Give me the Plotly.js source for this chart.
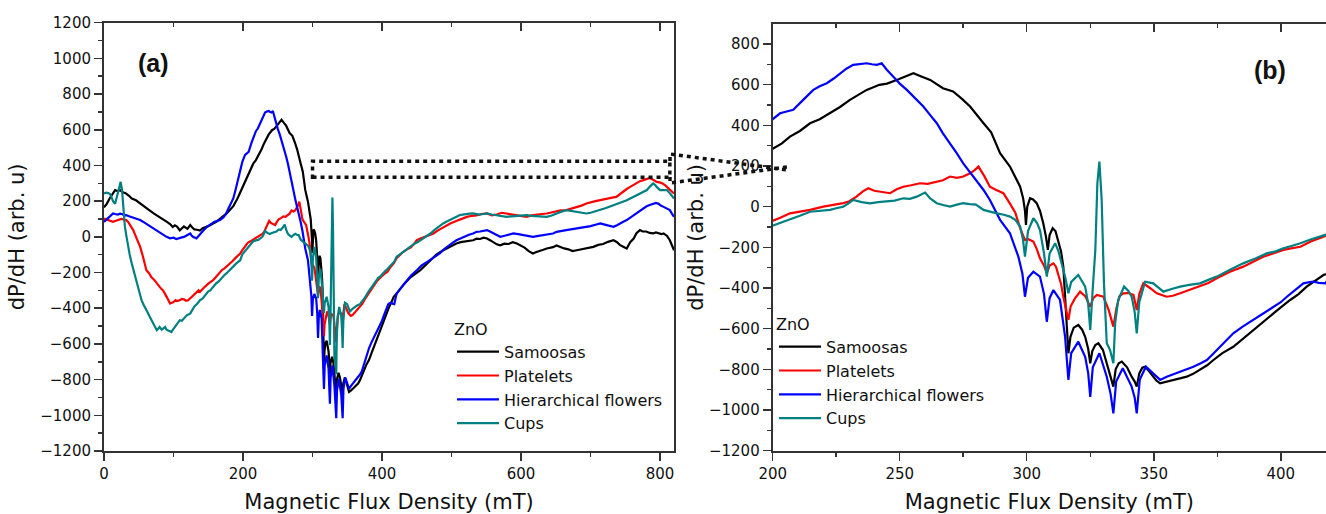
<!DOCTYPE html>
<html>
<head>
<meta charset="utf-8">
<script src="https://cdn.plot.ly/plotly-3.0.1.min.js"></script>
<style>html,body{margin:0;padding:0;background:#fff;}#chart{width:1326px;height:514px;}</style>
</head>
<body>
<div id="chart"></div>
<script>
// ---- data: [magnetic flux density mT, dP/dH] ----
const seriesNames = ["Samoosas", "Platelets", "Hierarchical flowers", "Cups"];
const seriesColors = ["#000000", "#ff0000", "#0000ff", "#008080"];

const samoosas = [[0,165],[4,185],[8,215],[12,240],[16,262],[20,255],[23,262],[27,250],[31,245],[36,230],[40,215],[46,205],[52,189],[58,170],[65,150],[72,130],[80,112],[85,100],[90,85],[95,72],[99,55],[102,65],[105,58],[109,37],[112,50],[115,58],[120,45],[124,66],[127,52],[130,42],[134,40],[138,35],[142,48],[145,52],[150,60],[157,75],[162,85],[165,96],[170,110],[176,130],[181,150],[186,172],[192,215],[196,250],[200,285],[203.5,310],[206.8,344],[210.7,372],[214.7,410],[218.5,430],[222.6,459],[226.5,490],[230.4,525],[234,550],[237,574],[242,599],[245,605],[248.8,623],[252,640],[255.4,656],[258.5,640],[262,623],[267,582],[271,566],[274.5,530],[277.7,492],[283,410],[286,365],[289.5,263],[293.4,197],[297.4,98],[298.6,40],[299.3,-20],[299.7,-90],[300.2,0],[301.3,41],[302.5,35],[303.9,17],[305.2,-20],[306.5,-82],[307.6,-150],[308.3,-213],[309,-140],[310.2,-106],[311.3,-120],[312.4,-164],[313.5,-220],[314.4,-295],[315.2,-450],[315.7,-574],[316.4,-721],[317.2,-640],[318.5,-595],[320.3,-582],[321.8,-605],[323,-640],[324.2,-700],[325,-770],[325.8,-710],[327,-680],[328.2,-672],[330,-705],[331.5,-770],[333,-830],[334.1,-885],[335,-800],[336.2,-770],[337.4,-762],[339.5,-790],[341.3,-836],[342.5,-860],[343.3,-885],[344.3,-820],[345.5,-792],[346.6,-787],[348.2,-810],[349.8,-836],[351,-855],[352.5,-869],[355,-862],[357.7,-852],[360,-848],[363,-836],[365.5,-822],[368.2,-803],[371,-780],[373.5,-754],[377,-720],[381.3,-689],[385,-650],[389.2,-606],[393,-565],[397.1,-524],[400,-495],[403.7,-459],[407,-430],[410.2,-393],[413,-370],[416.8,-336],[421,-318],[426,-290],[432,-262],[440,-230],[447,-210],[455,-187],[462,-160],[470,-130],[478,-100],[488,-75],[493,-65],[498,-55],[503,-45],[507,-37],[513,-30],[519,-25],[525,-20],[531,-19],[536,-10],[541,-12],[546,-5],[551,-9],[556,-20],[560,-30],[565,-42],[570,-47],[576,-38],[582,-40],[588,-30],[594,-37],[600,-50],[605,-60],[611,-80],[617,-93],[622,-85],[627,-80],[632,-72],[637,-65],[642,-60],[646,-58],[651,-48],[656,-56],[662,-65],[668,-70],[674,-80],[680,-75],[686,-70],[692,-62],[698,-60],[704,-56],[711,-45],[718,-40],[725,-28],[733,-19],[738,-30],[742,-45],[747,-55],[752,-65],[757,-30],[762,-10],[766,20],[771,38],[775,30],[780,30],[785,22],[790,19],[794,25],[798,22],[802,15],[805,19],[810,5],[814,-19],[817,-45],[820,-75]];

const platelets = [[0,103],[4,98],[8,92],[13,84],[17,90],[20,95],[25,100],[29,96],[32,94],[35,82],[37,70],[40,50],[42,38],[45,10],[47,-10],[50,-35],[52,-56],[56,-110],[58,-145],[61,-187],[65,-205],[68,-225],[72,-240],[76,-261],[79,-275],[82,-290],[85,-300],[88,-317],[90,-335],[92,-350],[95,-374],[97,-370],[100,-365],[103,-355],[105,-360],[109,-355],[112,-348],[115,-350],[118,-358],[121,-355],[125,-340],[128,-330],[133,-315],[136,-300],[138,-308],[142,-290],[145,-280],[150,-262],[153,-255],[157,-243],[161,-225],[165,-205],[170,-185],[173,-178],[176,-168],[180,-155],[185,-135],[190,-115],[193,-105],[196,-93],[199,-74],[203,-55],[206.8,-33],[210.7,-25],[214.7,-16],[219.9,0],[224,8],[227.8,17],[230,25],[233,49],[235.5,75],[237.6,90],[240,78],[242.2,74],[244,72],[246.2,66],[248.8,85],[251.4,98],[254.5,105],[258,115],[261,112],[264.6,123],[267,130],[269.8,148],[272.5,142],[275,148],[277.7,164],[279.5,180],[281,197],[283.3,150],[285.5,98],[288,82],[290.8,66],[293.4,15],[295.5,-30],[297.4,-106],[298.5,-140],[299.3,-164],[300.6,-160],[302.6,-172],[304,-210],[305.2,-254],[306.8,-290],[307.9,-328],[309,-290],[310.5,-279],[311.5,-295],[312.4,-328],[313.5,-380],[314.4,-443],[315.6,-510],[316.4,-557],[317.3,-490],[319,-451],[321,-418],[323,-440],[325,-492],[326.2,-450],[327.6,-434],[330.2,-443],[332.3,-510],[334.1,-590],[335.3,-500],[336.5,-440],[338,-426],[340,-425],[342,-434],[343.3,-508],[344.3,-430],[345.9,-377],[348.5,-400],[351.2,-426],[355.1,-443],[357.5,-438],[360.4,-426],[364,-410],[368.2,-393],[371.5,-375],[374.8,-352],[380,-320],[385.2,-295],[389,-270],[393.1,-246],[397,-230],[401,-213],[404,-205],[407.7,-197],[412,-170],[416.8,-148],[421,-120],[425,-105],[430,-85],[436,-70],[441,-60],[445,-45],[450,-19],[456,-8],[462,0],[468,12],[474,19],[480,35],[486,50],[492,62],[498,75],[504,85],[510,95],[516,105],[522,112],[529,118],[536,120],[543,128],[551,131],[558,120],[565,125],[572,135],[579,131],[586,125],[594,120],[601,115],[608,112],[615,120],[622,125],[630,128],[637,131],[644,138],[650,140],[657,148],[665,150],[672,158],[680,165],[687,175],[694,187],[700,195],[707,200],[714,206],[720,212],[725,215],[731,220],[737,224],[742,240],[747,255],[752,268],[757,280],[761,290],[766,300],[771,312],[776,318],[780,325],[785,330],[790,320],[795,308],[799,305],[803,300],[807,290],[810,280],[815,265],[820,243]];

const flowers = [[0,84],[4,100],[8,115],[13,131],[16,128],[20,125],[23,130],[26,128],[29,120],[32,122],[36,115],[40,110],[44,105],[47,100],[52,94],[56,85],[60,75],[66,60],[71,47],[75,38],[80,25],[85,12],[90,0],[95,-8],[100,-5],[104,-12],[109,-9],[112,-3],[115,0],[118,5],[120,10],[124,19],[126,8],[128,0],[131,-5],[133,-9],[136,5],[140,20],[144,40],[148,56],[152,68],[155,75],[159,85],[162,88],[167,94],[172,110],[175,125],[178,150],[182,180],[186,215],[189,260],[192,310],[196,380],[199,420],[202.9,459],[205.5,468],[208.1,476],[212,525],[216,574],[218.5,592],[221.3,607],[224,630],[226.5,656],[229,678],[231.7,697],[234,702],[237,705],[239,700],[241,697],[242.9,705],[245,672],[247.5,639],[250,605],[252.8,574],[256,535],[259.3,492],[262,450],[264.6,410],[267,360],[269.8,312],[272.5,262],[275,213],[277.5,172],[280.3,131],[283,82],[285.5,33],[289.5,-65],[293.4,-131],[296.7,-246],[298.3,-330],[299.3,-443],[300.5,-350],[302.6,-320],[305.2,-344],[306.8,-430],[307.9,-566],[309,-450],[310.5,-410],[313.1,-459],[315.1,-640],[316.4,-852],[317.5,-720],[320.3,-664],[323,-738],[324.2,-820],[325,-935],[326,-790],[328.6,-721],[331.5,-836],[333,-920],[334.1,-1016],[335.2,-860],[337.8,-795],[341.3,-885],[342.5,-940],[343.3,-1016],[344.5,-850],[346.9,-787],[349.8,-820],[352.5,-852],[355.1,-836],[357.5,-825],[360.4,-812],[363,-800],[365.6,-787],[368.5,-770],[370.9,-754],[373.5,-722],[376,-689],[378.5,-655],[381.3,-623],[385,-590],[389.2,-557],[393,-525],[397.1,-492],[400,-470],[402.4,-443],[405.5,-410],[408.9,-377],[410.8,-372],[412.8,-369],[415,-375],[417.5,-377],[421,-317],[428,-283],[435,-250],[442,-215],[450,-187],[457,-160],[465,-140],[474,-115],[483,-93],[489,-70],[495,-50],[501,-35],[507,-19],[513,-8],[519,0],[525,12],[531,19],[536,28],[541,30],[546,35],[551,38],[556,28],[560,20],[565,8],[570,0],[575,5],[580,10],[585,15],[589,19],[596,15],[603,10],[610,5],[617,0],[625,5],[632,10],[639,15],[646,19],[651,28],[656,30],[661,35],[665,38],[672,42],[678,45],[684,52],[690,56],[695,58],[700,60],[707,68],[714,75],[719,70],[724,65],[728,60],[733,56],[738,65],[742,75],[747,85],[752,94],[757,108],[762,120],[766,135],[771,150],[775,160],[780,170],[785,178],[790,187],[794,190],[798,185],[801,175],[805,168],[810,160],[814,150],[817,130],[820,112]];

const cups = [[0,243],[3,248],[6,245],[9,238],[11,220],[13,200],[16,185],[19,230],[22,290],[24,308],[26,260],[28,150],[30,60],[32,10],[34,-40],[37,-100],[40,-150],[42,-180],[45,-230],[47,-261],[50,-310],[54,-355],[57,-380],[60,-400],[63,-425],[66,-449],[69,-470],[71,-480],[74,-505],[76,-523],[78,-515],[80,-505],[83,-520],[85,-514],[88,-505],[90,-520],[93,-525],[97,-533],[100,-515],[103,-500],[106,-480],[109,-467],[112,-470],[115,-455],[119,-440],[124,-430],[127,-410],[130,-390],[134,-375],[138,-355],[142,-345],[145,-330],[150,-305],[153,-300],[157,-280],[161,-262],[165,-250],[170,-225],[173,-215],[176,-205],[180,-188],[185,-170],[190,-150],[193,-140],[196,-131],[199,-98],[203,-80],[206.8,-65],[210.7,-45],[214.7,-25],[218.5,-20],[222.6,-16],[225,-8],[227.8,0],[229.7,15],[231.7,33],[235,22],[238.3,16],[241.5,22],[244.9,25],[248,30],[251.4,41],[254,38],[256.7,49],[258.5,58],[260,69],[262,40],[264.6,17],[267,8],[269.8,0],[272.5,10],[275,17],[277.5,12],[280,10],[283,-16],[285.5,-25],[288.2,-33],[291,-40],[293.4,-49],[295.5,-65],[297.4,-98],[298.5,-160],[299.3,-246],[300.5,-120],[302.6,-57],[304,-80],[305.2,-115],[306.8,-230],[307.9,-344],[309,-230],[311.2,-180],[312.5,-220],[313.8,-279],[315.2,-350],[316.4,-426],[317.5,-370],[320.3,-336],[322,-370],[323,-393],[324.2,-480],[325,-606],[326,-400],[327,-213],[327.8,115],[328.6,221],[329.5,33],[330.4,-377],[331.5,-672],[332.8,-705],[334.1,-770],[334.8,-574],[336,-460],[338.3,-393],[340,-415],[341.3,-443],[342.5,-520],[343.3,-623],[344.3,-470],[346.6,-369],[349.8,-377],[353.8,-418],[357,-405],[360.4,-393],[364,-385],[368.2,-377],[371.5,-360],[374.8,-344],[380,-310],[385.2,-279],[390,-255],[394.5,-230],[398,-220],[401,-205],[404.5,-192],[407.7,-180],[412,-160],[417.5,-139],[421,-112],[425,-100],[430,-85],[435,-70],[440,-56],[446,-40],[452,-28],[458,-12],[464,0],[470,20],[476,40],[482,58],[488,75],[494,88],[500,100],[506,112],[512,122],[516,125],[520,128],[526,130],[531,131],[536,128],[540,125],[546,128],[551,131],[558,125],[565,120],[572,115],[579,112],[586,115],[594,118],[601,120],[608,122],[615,118],[622,115],[630,112],[637,112],[644,120],[650,130],[657,140],[665,150],[672,145],[680,140],[687,135],[694,131],[700,135],[705,140],[710,145],[714,150],[721,160],[728,170],[735,180],[742,187],[747,196],[752,205],[757,215],[762,224],[767,235],[772,245],[777,255],[781,262],[785,280],[790,299],[793,290],[795,280],[800,262],[805,262],[810,262],[815,240],[820,215]];

const xTitle = "Magnetic Flux Density (mT)";
const yTitle = "dP/dH (arb. u)";
const legendTitle = "ZnO";
const panelLabels = ["(a)", "(b)"];

// ---- build ----
const allSeries = [samoosas, platelets, flowers, cups];
const FONT = "DejaVu Sans, sans-serif";
const LABFONT = "Liberation Sans, Arial, sans-serif";
const traces = [];
[['x','y','legend'], ['x2','y2','legend2']].forEach(([xa, ya, lg]) => {
  allSeries.forEach((s, i) => {
    traces.push({type:'scatter', mode:'lines', x:s.map(p => p[0]), y:s.map(p => p[1]),
      name:seriesNames[i], line:{color:seriesColors[i], width:2.2},
      xaxis:xa, yaxis:ya, legend:lg});
  });
});
// empty traces that only make the top (mirror) axes exist
traces.push({type:'scatter', mode:'lines', x:[], y:[], xaxis:'x3', yaxis:'y', showlegend:false, hoverinfo:'skip'});
traces.push({type:'scatter', mode:'lines', x:[], y:[], xaxis:'x4', yaxis:'y2', showlegend:false, hoverinfo:'skip'});

const W = 1326, H = 514;
const px = v => v / W;
const py = v => 1 - v / H;

const axBase = {showgrid:false, zeroline:false, showline:true, linecolor:'#333', linewidth:2,
  ticks:'outside', ticklen:8, tickwidth:1.5, tickcolor:'#333',
  tickfont:{family:FONT, size:15, color:'#111'}, automargin:false};
const titleFont = {family:FONT, size:21, color:'#111'};
const legFont = {family:FONT, size:16, color:'#111'};

const layout = {
  width:W, height:H, margin:{l:0, r:0, t:0, b:0},
  paper_bgcolor:'#fff', plot_bgcolor:'rgba(0,0,0,0)',
  font:{family:FONT, color:'#111'},
  showlegend:true,
  xaxis: Object.assign({}, axBase, {domain:[px(104), px(674)], anchor:'y', range:[0,820], dtick:200, tick0:0,
    minor:{ticks:'outside', ticklen:4, dtick:100, tickcolor:'#333', tickwidth:1.5},
    title:{text:xTitle, font:titleFont, standoff:13}}),
  yaxis: Object.assign({}, axBase, {domain:[py(451), py(22.7)], anchor:'x', range:[-1200,1200], dtick:200, tick0:0,
    mirror:true,
    minor:{ticks:'outside', ticklen:4, dtick:100, tickcolor:'#333', tickwidth:1.5},
    title:{text:yTitle, font:titleFont, standoff:10}}),
  xaxis3: Object.assign({}, axBase, {overlaying:'x', anchor:'y', side:'top', range:[0,820], dtick:200, tick0:0,
    ticks:'inside', showticklabels:false,
    minor:{ticks:'inside', ticklen:4, dtick:100, tickcolor:'#333', tickwidth:1.5}}),
  xaxis2: Object.assign({}, axBase, {domain:[px(772.7), 1], anchor:'y2', range:[200,417.8], dtick:50, tick0:0,
    minor:{ticks:'outside', ticklen:4, dtick:25, tickcolor:'#333', tickwidth:1.5},
    title:{text:xTitle, font:titleFont, standoff:13}}),
  yaxis2: Object.assign({}, axBase, {domain:[py(450.7), py(24)], anchor:'x2', range:[-1200,898], dtick:200, tick0:0,
    minor:{ticks:'outside', ticklen:4, dtick:100, tickcolor:'#333', tickwidth:1.5},
    title:{text:yTitle, font:titleFont, standoff:0}}),
  xaxis4: Object.assign({}, axBase, {overlaying:'x2', anchor:'y2', side:'top', range:[200,417.8], dtick:50, tick0:0,
    ticks:'inside', showticklabels:false,
    minor:{ticks:'inside', ticklen:4, dtick:25, tickcolor:'#333', tickwidth:1.5}}),
  legend: {x:px(452), y:py(314), xanchor:'left', yanchor:'top', bgcolor:'rgba(0,0,0,0)', borderwidth:0,
    font:legFont, title:{text:legendTitle, font:legFont}, tracegroupgap:0, itemwidth:42},
  legend2: {x:px(774), y:py(309), xanchor:'left', yanchor:'top', bgcolor:'rgba(0,0,0,0)', borderwidth:0,
    font:legFont, title:{text:legendTitle, font:legFont}, tracegroupgap:0, itemwidth:42},
  annotations: [
    {text:'<b>'+panelLabels[0]+'</b>', xref:'paper', yref:'paper', x:px(153), y:py(63),
     xanchor:'center', yanchor:'middle', showarrow:false, font:{family:LABFONT, size:25, color:'#111'}},
    {text:'<b>'+panelLabels[1]+'</b>', xref:'paper', yref:'paper', x:px(1270), y:py(70),
     xanchor:'center', yanchor:'middle', showarrow:false, font:{family:LABFONT, size:25, color:'#111'}}
  ],
  shapes: [
    {type:'rect', xref:'x', yref:'y', x0:300, x1:814, y0:334, y1:424,
     line:{color:'#111', width:3.5, dash:'4px,4px'}},
    {type:'path', xref:'paper', yref:'paper',
     path:'M '+px(670)+','+py(161)+' L '+px(670)+','+py(154)+' L '+px(787)+','+py(170),
     line:{color:'#111', width:3.5, dash:'4px,4px'}},
    {type:'path', xref:'paper', yref:'paper',
     path:'M '+px(670)+','+py(177)+' L '+px(670)+','+py(183)+' L '+px(787)+','+py(167),
     line:{color:'#111', width:3.5, dash:'4px,4px'}}
  ]
};

Plotly.newPlot('chart', traces, layout, {displayModeBar:false, staticPlot:true});
</script>
</body>
</html>
